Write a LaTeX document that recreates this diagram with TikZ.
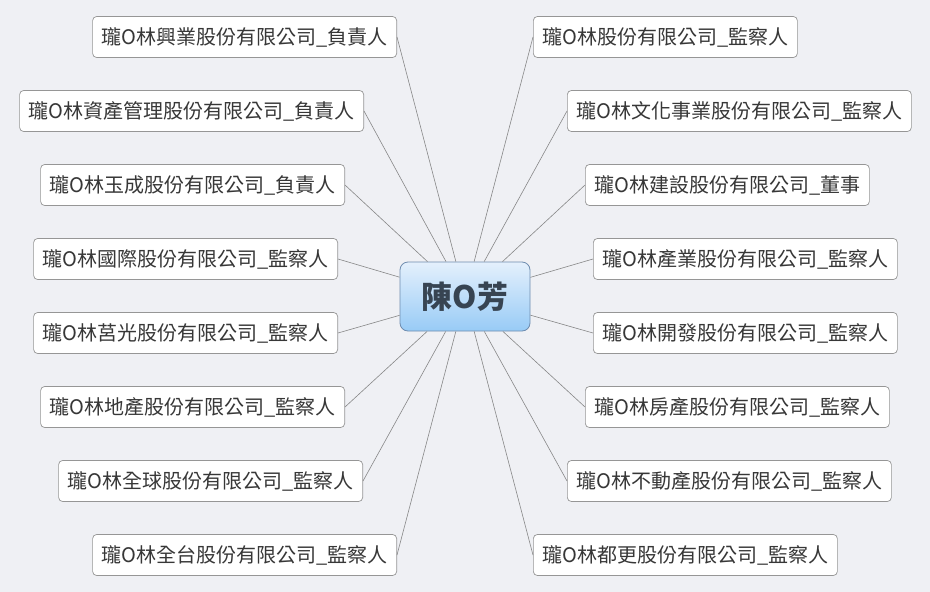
\documentclass[tikz,border=0pt]{standalone}
\usepackage{fontspec}
\newfontfamily\cjk{Noto Sans CJK TC}
\usepackage{xcolor}
\usepackage{tikz}
\usetikzlibrary{shapes,positioning,calc}

\definecolor{bgcol}{RGB}{239,240,244}
\definecolor{boxline}{RGB}{150,150,150}
\definecolor{linecol}{RGB}{135,135,135}
\definecolor{txtcol}{RGB}{55,55,55}
\definecolor{centerline}{RGB}{110,140,175}
\definecolor{centertop}{RGB}{228,240,252}
\definecolor{centerbot}{RGB}{152,203,246}
\definecolor{centertxt}{RGB}{55,68,82}

\tikzset{
  topic/.style={draw=boxline,fill=white,rectangle,rounded corners=4pt,line width=0.7pt,
    minimum height=41pt,inner xsep=9pt,font=\cjk\fontsize{20}{24}\selectfont,text=txtcol},
  central/.style={draw=centerline,rectangle,rounded corners=8pt,line width=0.8pt,
    top color=centertop,bottom color=centerbot,minimum width=130pt,minimum height=69pt,
    font=\cjk\bfseries\fontsize{31}{36}\selectfont,text=centertxt},
  branch/.style={draw=linecol,line width=0.6pt}
}

\begin{document}
\begin{tikzpicture}[x=1pt,y=-1pt]
\fill[bgcol] (0,0) rectangle (930,592);
\useasboundingbox (0,0) rectangle (930,592);

% Center
\node[central] (chen) at (465,296.5) {陳O芳};

% Left side
\node[topic,anchor=east] (xingye) at (397,37) {瓏O林興業股份有限公司\_負責人};
\node[topic,anchor=east] (zichan) at (364,111) {瓏O林資產管理股份有限公司\_負責人};
\node[topic,anchor=east] (yucheng) at (345,185) {瓏O林玉成股份有限公司\_負責人};
\node[topic,anchor=east] (guoji) at (338,259) {瓏O林國際股份有限公司\_監察人};
\node[topic,anchor=east] (juguang) at (338,333) {瓏O林莒光股份有限公司\_監察人};
\node[topic,anchor=east] (dichan) at (345,407) {瓏O林地產股份有限公司\_監察人};
\node[topic,anchor=east] (quanqiu) at (363,481) {瓏O林全球股份有限公司\_監察人};
\node[topic,anchor=east] (quantai) at (397,555) {瓏O林全台股份有限公司\_監察人};

% Right side
\node[topic,anchor=west] (gufen) at (533,37) {瓏O林股份有限公司\_監察人};
\node[topic,anchor=west] (wenhua) at (567,111) {瓏O林文化事業股份有限公司\_監察人};
\node[topic,anchor=west] (jianshe) at (585,185) {瓏O林建設股份有限公司\_董事};
\node[topic,anchor=west] (chanye) at (593,259) {瓏O林產業股份有限公司\_監察人};
\node[topic,anchor=west] (kaifa) at (593,333) {瓏O林開發股份有限公司\_監察人};
\node[topic,anchor=west] (fangchan) at (585,407) {瓏O林房產股份有限公司\_監察人};
\node[topic,anchor=west] (budong) at (567,481) {瓏O林不動產股份有限公司\_監察人};
\node[topic,anchor=west] (dougeng) at (533,555) {瓏O林都更股份有限公司\_監察人};

% Branches
\draw[branch] (chen) -- (xingye.east);
\draw[branch] (chen) -- (zichan.east);
\draw[branch] (chen) -- (yucheng.east);
\draw[branch] (chen) -- (guoji.east);
\draw[branch] (chen) -- (juguang.east);
\draw[branch] (chen) -- (dichan.east);
\draw[branch] (chen) -- (quanqiu.east);
\draw[branch] (chen) -- (quantai.east);
\draw[branch] (chen) -- (gufen.west);
\draw[branch] (chen) -- (wenhua.west);
\draw[branch] (chen) -- (jianshe.west);
\draw[branch] (chen) -- (chanye.west);
\draw[branch] (chen) -- (kaifa.west);
\draw[branch] (chen) -- (fangchan.west);
\draw[branch] (chen) -- (budong.west);
\draw[branch] (chen) -- (dougeng.west);
\end{tikzpicture}
\end{document}
